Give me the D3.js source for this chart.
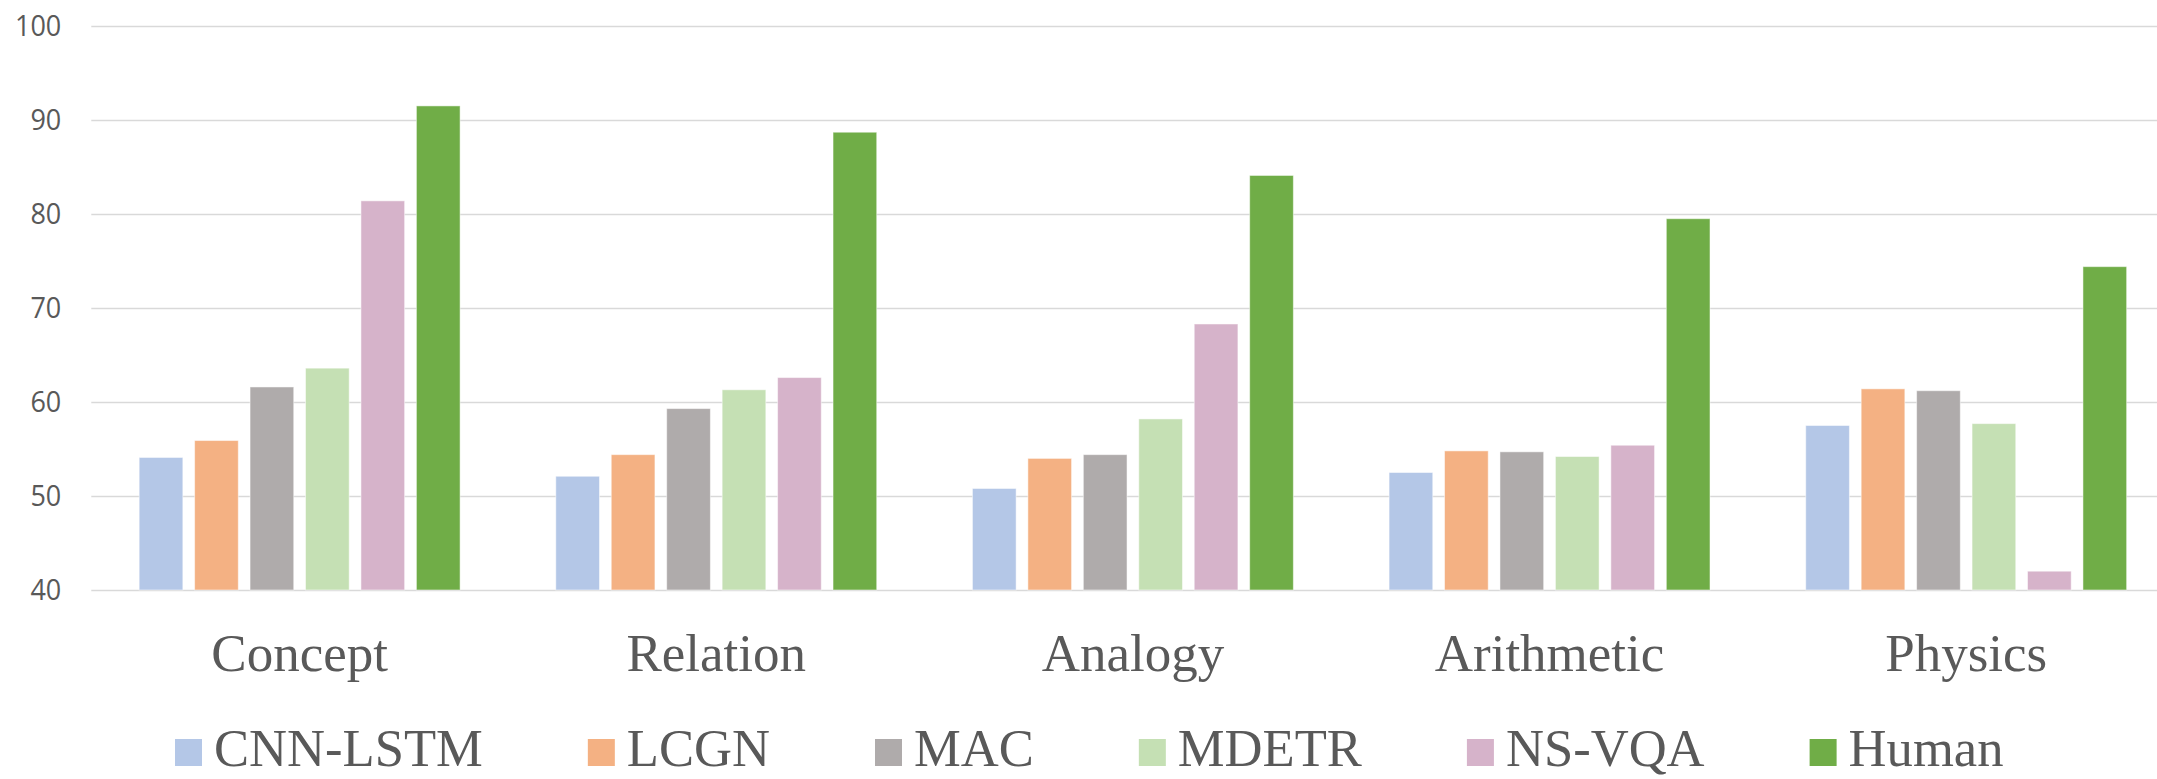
<!DOCTYPE html>
<html>
<head>
<meta charset="utf-8">
<script src="https://cdn.jsdelivr.net/npm/d3@7"></script>
<style>
  html, body { margin: 0; padding: 0; background: #ffffff; }
  svg { display: block; }
</style>
</head>
<body>
<div id="chart"></div>
<script>
// ---- data ----
const categories = ["Concept", "Relation", "Analogy", "Arithmetic", "Physics"];
const series = ["CNN-LSTM", "LCGN", "MAC", "MDETR", "NS-VQA", "Human"];
const cnnLstm = [54.1, 52.1, 50.8, 52.5, 57.5];
const lcgn    = [55.9, 54.4, 54.0, 54.8, 61.4];
const mac     = [61.6, 59.3, 54.4, 54.7, 61.2];
const mdetr   = [63.6, 61.3, 58.2, 54.2, 57.7];
const nsVqa   = [81.4, 62.6, 68.3, 55.4, 42.0];
const human   = [91.5, 88.7, 84.1, 79.5, 74.4];
const yTicks  = [40, 50, 60, 70, 80, 90, 100];
const colors  = ["#B4C7E7", "#F4B183", "#AFABAB", "#C5E0B4", "#D6B3CA", "#70AD47"];

const values = [cnnLstm, lcgn, mac, mdetr, nsVqa, human];

// ---- layout ----
const W = 2157, H = 779;
const plotLeft = 91.3, plotRight = 2174.5;
const yBottom = 590, yTop = 26;

const svg = d3.select("#chart").append("svg")
  .attr("width", W).attr("height", H);

const x0 = d3.scaleBand().domain(categories).range([plotLeft, plotRight]).padding(0);
const x1 = d3.scaleBand().domain(series).range([0, x0.bandwidth()])
  .paddingInner(0.212).paddingOuter(0.863);
const y = d3.scaleLinear().domain([40, 100]).range([yBottom, yTop]);

// gridlines + y labels
const yAxis = d3.axisLeft(y).tickValues(yTicks).tickSize(-(plotRight - plotLeft)).tickPadding(30);
const gy = svg.append("g").attr("transform", `translate(${plotLeft},0)`).call(yAxis);
gy.select(".domain").remove();
gy.selectAll(".tick line").attr("stroke", "#D9D9D9").attr("stroke-width", 1.6);
gy.selectAll(".tick text")
  .attr("fill", "#595959")
  .attr("transform", "scale(1,1.09)")
  .style("font-family", "'Open Sans', 'Noto Sans', sans-serif")
  .style("font-size", "27px");

// bars
const groups = svg.append("g").selectAll("g")
  .data(categories)
  .join("g")
  .attr("transform", d => `translate(${x0(d)},0)`);

groups.selectAll("rect")
  .data((c, ci) => series.map((s, si) => ({ s, si, v: values[si][ci] })))
  .join("rect")
  .attr("x", d => x1(d.s))
  .attr("width", x1.bandwidth())
  .attr("y", d => y(d.v))
  .attr("height", d => y(40) - y(d.v))
  .attr("fill", d => colors[d.si])
  .attr("stroke", "#ffffff")
  .attr("stroke-opacity", 0.5)
  .attr("stroke-width", 1);

// category axis
const xAxis = d3.axisBottom(x0).tickSize(0).tickPadding(0);
const gx = svg.append("g").attr("transform", `translate(0,${yBottom})`).call(xAxis);
gx.select(".domain").remove();
gx.selectAll(".tick text")
  .attr("y", 81)
  .attr("dy", 0)
  .attr("fill", "#595959")
  .style("font-family", "'Liberation Serif', 'Times New Roman', serif")
  .style("font-size", "53px");

// legend
const legend = svg.append("g").attr("transform", "translate(175,766)");
let lx = 0;
series.forEach((s, i) => {
  const g = legend.append("g").attr("transform", `translate(${lx},0)`);
  g.append("rect").attr("x", 0).attr("y", -27).attr("width", 27).attr("height", 27)
    .attr("fill", colors[i]);
  const t = g.append("text").attr("x", 39).attr("y", 0)
    .attr("fill", "#595959")
    .style("font-family", "'Liberation Serif', 'Times New Roman', serif")
    .style("font-size", "52.6px")
    .text(s);
  const tw = t.node().getComputedTextLength();
  lx += 39 + tw + 105;
});
</script>
</body>
</html>
